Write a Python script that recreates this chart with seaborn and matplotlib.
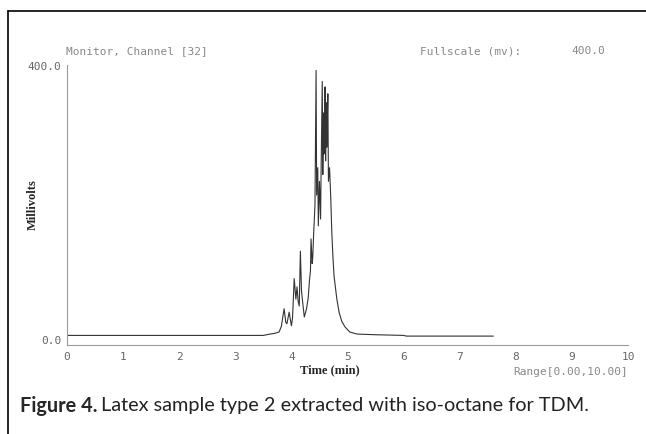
import matplotlib
matplotlib.use("Agg")
import matplotlib.pyplot as plt
import seaborn as sns
from matplotlib.lines import Line2D

# chromatogram trace (time in min, signal in mV)
time_min = [0.0, 1.0, 2.0, 3.0, 3.50, 3.62, 3.70, 3.78, 3.82, 3.87, 3.90, 3.92,
            3.96, 4.00, 4.02, 4.05, 4.08, 4.10, 4.12, 4.14, 4.16, 4.18, 4.20,
            4.23, 4.27, 4.30, 4.32, 4.34, 4.35, 4.37, 4.38, 4.40, 4.42, 4.44,
            4.45, 4.47, 4.48, 4.50, 4.52, 4.53, 4.55, 4.56, 4.57, 4.58, 4.59,
            4.60, 4.61, 4.62, 4.63, 4.64, 4.65, 4.66, 4.68, 4.70, 4.72, 4.74,
            4.76, 4.81, 4.85, 4.90, 4.96, 5.04, 5.17, 5.50, 6.00, 6.05, 7.60]
millivolts = [5, 5, 5, 5, 5, 7, 8, 10, 18, 44, 24, 22,
              39, 19, 30, 88, 58, 76, 55, 48, 128, 70, 54,
              32, 44, 60, 83, 100, 146, 110, 119, 160, 195, 392,
              210, 250, 165, 230, 175, 250, 376, 240, 330, 270, 300,
              368, 260, 345, 280, 320, 358, 230, 250, 210, 156, 120,
              92, 58, 39, 25, 17, 10, 7, 6, 5, 4, 4]

x_ticks = list(range(0, 11))
y_ticks = [0, 400]
y_tick_labels = ["0.0", "400.0"]

sns.set_style("white")

fig = plt.figure(figsize=(6.46, 4.35), dpi=100)
ax = fig.add_axes([67 / 646, 1 - 346 / 435, (628 - 67) / 646, (346 - 66) / 435])

sns.lineplot(x=time_min, y=millivolts, ax=ax, color="#333333",
             linewidth=0.8, estimator=None, sort=False)

ax.set_xlim(0, 10)
ax.set_ylim(-9, 400)
ax.set_xticks(x_ticks)
ax.set_xticklabels([str(t) for t in x_ticks])
ax.set_yticks(y_ticks)
ax.set_yticklabels(y_tick_labels)
ax.tick_params(axis="both", colors="#888888", labelcolor="#666666",
               length=3, width=0.6, labelsize=8, pad=1)
for lab in ax.get_xticklabels() + ax.get_yticklabels():
    lab.set_family("DejaVu Sans Mono")
ax.set_xlabel("")
ax.set_ylabel("")
for side in ["top", "right"]:
    ax.spines[side].set_visible(False)
for side in ["left", "bottom"]:
    ax.spines[side].set_color("#999999")
    ax.spines[side].set_linewidth(0.8)

# header of the instrument print-out
mono = dict(family="DejaVu Sans Mono", color="#888888", fontsize=8, va="center")
fig.text(66 / 646, 1 - 51 / 435, "Monitor, Channel [32]", ha="left", **mono)
fig.text(420 / 646, 1 - 51 / 435, "Fullscale (mv):", ha="left", **mono)
fig.text(605 / 646, 1 - 51 / 435, "400.0", ha="right", **mono)
fig.text(628 / 646, 1 - 372 / 435, "Range[0.00,10.00]", ha="right", **mono)

fig.text(330 / 646, 1 - 370 / 435, "Time (min)", ha="center", va="center",
         family="Liberation Serif", fontweight="bold", fontsize=9)
fig.text(33 / 646, 1 - 205 / 435, "Millivolts", ha="center", va="center",
         rotation=90, family="Liberation Serif", fontweight="bold", fontsize=9)

# caption
cap = fig.text(20 / 646, 1 - 406 / 435, "Figure 4.", ha="left", va="center",
               family="Lato", fontweight="bold", fontsize=14.3)
fig.canvas.draw()
bb = cap.get_window_extent().transformed(fig.transFigure.inverted())
fig.text(bb.x1 + 0.006, 1 - 406 / 435,
         "Latex sample type 2 extracted with iso-octane for TDM.",
         ha="left", va="center", family="Lato", fontsize=14.3, color="#222222")

# frame of the clipped figure (top and left only)
fig.add_artist(Line2D([8 / 646, 8 / 646], [0, 1 - 12 / 435],
                      transform=fig.transFigure, color="black", linewidth=1.2))
fig.add_artist(Line2D([8 / 646, 1], [1 - 12 / 435, 1 - 12 / 435],
                      transform=fig.transFigure, color="black", linewidth=1.2))

fig.savefig("out.png", dpi=100)
